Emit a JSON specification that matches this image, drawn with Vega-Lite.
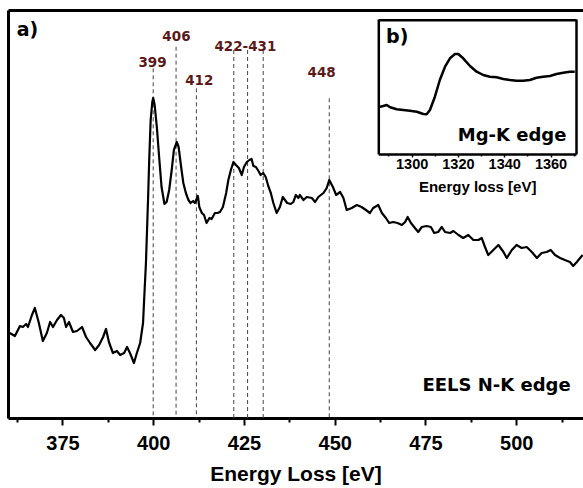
{
  "$schema": "https://vega.github.io/schema/vega-lite/v6.json",
  "width": 575,
  "height": 408,
  "autosize": "none",
  "padding": {"left": 8, "top": 10, "right": 0, "bottom": 70},
  "background": "white",
  "config": {"view": {"stroke": null}, "axis": {"grid": false}},
  "datasets": {
    "nk": [
      {"E":360.5,"I":85},{"E":361.9,"I":82},{"E":363.3,"I":92},{"E":364.1,"I":91},{"E":365.0,"I":94},{"E":365.5,"I":91},{"E":366.6,"I":103},{"E":367.4,"I":110},{"E":368.5,"I":95},{"E":369.6,"I":77},{"E":370.7,"I":85},{"E":371.6,"I":96},{"E":372.4,"I":91},{"E":373.5,"I":98},{"E":374.6,"I":103},{"E":375.4,"I":100},{"E":376.0,"I":91},{"E":376.8,"I":96},{"E":377.9,"I":86},{"E":379.0,"I":87},{"E":380.4,"I":91},{"E":381.5,"I":81},{"E":382.6,"I":75},{"E":384.0,"I":68},{"E":385.1,"I":73},{"E":386.2,"I":81},{"E":387.0,"I":89},{"E":387.8,"I":76},{"E":388.9,"I":65},{"E":390.0,"I":67},{"E":390.9,"I":63},{"E":392.0,"I":65},{"E":392.8,"I":71},{"E":393.6,"I":65},{"E":394.7,"I":55},{"E":395.5,"I":65},{"E":396.4,"I":75},{"E":397.2,"I":95},{"E":397.5,"I":118},{"E":398.0,"I":155},{"E":398.3,"I":188},{"E":398.6,"I":221},{"E":398.9,"I":258},{"E":399.3,"I":298},{"E":399.75,"I":316},{"E":400.0,"I":320},{"E":400.4,"I":313},{"E":401.0,"I":291},{"E":401.7,"I":258},{"E":402.3,"I":231},{"E":403.1,"I":214},{"E":403.7,"I":216},{"E":404.4,"I":228},{"E":405.1,"I":248},{"E":405.7,"I":268},{"E":406.5,"I":276},{"E":407.0,"I":271},{"E":407.7,"I":251},{"E":408.3,"I":235},{"E":409.0,"I":225},{"E":409.7,"I":218},{"E":410.3,"I":215},{"E":411.0,"I":217},{"E":411.5,"I":215},{"E":412.3,"I":222},{"E":412.7,"I":211},{"E":413.4,"I":205},{"E":414.0,"I":203},{"E":414.7,"I":195},{"E":415.5,"I":200},{"E":416.1,"I":199},{"E":417.0,"I":205},{"E":417.7,"I":205},{"E":418.4,"I":206},{"E":419.2,"I":211},{"E":420.1,"I":225},{"E":420.7,"I":238},{"E":421.4,"I":248},{"E":422.1,"I":256},{"E":422.8,"I":253},{"E":423.6,"I":250},{"E":424.4,"I":243},{"E":425.0,"I":251},{"E":425.8,"I":256},{"E":426.5,"I":258},{"E":427.1,"I":259},{"E":427.6,"I":252},{"E":428.3,"I":251},{"E":429.0,"I":247},{"E":429.6,"I":243},{"E":430.3,"I":245},{"E":431.0,"I":241},{"E":431.7,"I":232},{"E":432.4,"I":225},{"E":433.1,"I":215},{"E":434.0,"I":205},{"E":434.9,"I":211},{"E":435.7,"I":221},{"E":436.3,"I":218},{"E":436.9,"I":215},{"E":437.9,"I":214},{"E":438.6,"I":216},{"E":439.3,"I":223},{"E":440.0,"I":220},{"E":440.4,"I":223},{"E":441.4,"I":218},{"E":442.3,"I":221},{"E":443.7,"I":220},{"E":444.6,"I":216},{"E":445.5,"I":221},{"E":446.9,"I":225},{"E":447.8,"I":230},{"E":448.5,"I":238},{"E":449.5,"I":231},{"E":450.4,"I":223},{"E":451.5,"I":226},{"E":452.4,"I":220},{"E":453.3,"I":208},{"E":454.7,"I":210},{"E":456.1,"I":213},{"E":457.4,"I":211},{"E":458.6,"I":208},{"E":459.7,"I":205},{"E":460.6,"I":210},{"E":462.0,"I":213},{"E":463.0,"I":205},{"E":464.1,"I":200},{"E":465.0,"I":195},{"E":466.1,"I":196},{"E":467.3,"I":195},{"E":468.5,"I":193},{"E":469.4,"I":196},{"E":470.1,"I":201},{"E":471.0,"I":195},{"E":472.1,"I":190},{"E":473.0,"I":186},{"E":474.0,"I":191},{"E":475.3,"I":192},{"E":476.5,"I":191},{"E":477.4,"I":185},{"E":478.5,"I":186},{"E":479.5,"I":191},{"E":480.4,"I":186},{"E":481.8,"I":185},{"E":482.7,"I":187},{"E":484.1,"I":183},{"E":485.4,"I":180},{"E":486.8,"I":183},{"E":488.2,"I":178},{"E":489.6,"I":178},{"E":490.5,"I":180},{"E":491.4,"I":171},{"E":492.3,"I":163},{"E":493.7,"I":168},{"E":495.1,"I":173},{"E":496.5,"I":166},{"E":497.4,"I":160},{"E":498.8,"I":168},{"E":500.1,"I":173},{"E":501.5,"I":170},{"E":502.9,"I":171},{"E":504.3,"I":166},{"E":505.7,"I":160},{"E":507.0,"I":165},{"E":508.4,"I":166},{"E":509.5,"I":168},{"E":510.7,"I":163},{"E":512.1,"I":160},{"E":513.4,"I":158},{"E":514.8,"I":156},{"E":515.7,"I":152},{"E":516.7,"I":156},{"E":517.6,"I":160},{"E":518.3,"I":163}
    ],
    "lines": [
      {"E":400.0,"I":349.7},{"E":406.3,"I":371.3},{"E":411.9,"I":329.7},{"E":422.2,"I":368},{"E":426.0,"I":368},{"E":430.3,"I":368},{"E":448.5,"I":319.7}
    ],
    "peaklabels": [
      {"label":"399","E":399.8,"I":351.3},{"label":"406","E":406.4,"I":377.3},{"label":"412","E":412.7,"I":333},{"label":"422-431","E":425.4,"I":367},{"label":"448","E":446.4,"I":341.3}
    ],
    "tagA": [{"label":"a)","E":362.4,"I":382}],
    "tagEELS": [{"label":"EELS N-K edge","E":515.0,"I":27}],
    "mg": [
      {"E":1285.6,"I":46.7},{"E":1287.74,"I":48},{"E":1289.27,"I":49},{"E":1290.69,"I":46.7},{"E":1293.55,"I":44.7},{"E":1296.4,"I":44},{"E":1299.25,"I":43.3},{"E":1302.2,"I":42.3},{"E":1305.06,"I":40},{"E":1306.48,"I":39.7},{"E":1307.91,"I":44},{"E":1310.05,"I":57.3},{"E":1312.18,"I":74},{"E":1314.43,"I":87.3},{"E":1316.56,"I":95.7},{"E":1318.7,"I":100},{"E":1320.13,"I":100},{"E":1322.27,"I":95.7},{"E":1325.22,"I":88},{"E":1328.07,"I":82.3},{"E":1330.93,"I":79},{"E":1333.78,"I":77.3},{"E":1336.73,"I":76.7},{"E":1339.58,"I":75},{"E":1342.44,"I":74},{"E":1345.29,"I":73.3},{"E":1348.14,"I":73.3},{"E":1351.09,"I":74},{"E":1353.95,"I":76.3},{"E":1356.8,"I":77.3},{"E":1359.75,"I":78},{"E":1362.6,"I":80},{"E":1365.46,"I":81.3},{"E":1368.31,"I":82.3},{"E":1370.45,"I":82.3}
    ],
    "tagB": [{"label":"b)","E":1288.96,"I":111.3}],
    "tagMg": [{"label":"Mg-K edge","E":1366.88,"I":13}]
  },
  "layer": [
    {
      "encoding": {
        "x": {
          "field": "E", "type": "quantitative",
          "scale": {"domain": [360, 518.4], "nice": false, "zero": false},
          "axis": {
            "orient": "bottom",
            "title": "Energy Loss [eV]",
            "values": [362.5,375,387.5,400,412.5,425,437.5,450,462.5,475,487.5,500,512.5],
            "format": "d",
            "labelExpr": "datum.value % 25 === 0 ? datum.label : ''",
            "tickSize": {"condition": {"test": "datum.value % 25 === 0", "value": 7}, "value": 4},
            "tickWidth": 2, "tickColor": "black",
            "domainWidth": 3, "domainColor": "black",
            "labelFont": "Liberation Sans", "labelFontWeight": "bold", "labelFontSize": 20, "labelColor": "black",
            "labelPadding": 8, "labelFlush": false, "labelOverlap": false,
            "titleFont": "Liberation Sans", "titleFontWeight": "bold", "titleFontSize": 21, "titleColor": "black",
            "titlePadding": 10
          }
        },
        "y": {
          "field": "I", "type": "quantitative",
          "scale": {"domain": [0, 408], "nice": false, "zero": false},
          "axis": {"orient": "left", "ticks": false, "labels": false, "title": null, "domainWidth": 3, "domainColor": "black"}
        }
      },
      "layer": [
        {
          "data": {"name": "lines"},
          "mark": {"type": "rule", "color": "#444444", "strokeWidth": 1, "strokeDash": [4, 3]},
          "encoding": {"y2": {"datum": 0}}
        },
        {
          "data": {"name": "nk"},
          "mark": {"type": "line", "color": "black", "strokeWidth": 2.2, "strokeJoin": "round"}
        },
        {
          "data": {"name": "peaklabels"},
          "mark": {"type": "text", "font": "DejaVu Sans", "fontWeight": "bold", "fontSize": 13.5, "color": "#5b1a1a", "align": "center", "baseline": "alphabetic"},
          "encoding": {"text": {"field": "label"}}
        },
        {
          "data": {"name": "tagA"},
          "mark": {"type": "text", "font": "DejaVu Sans", "fontWeight": "bold", "fontSize": 19, "color": "black", "align": "left", "baseline": "alphabetic"},
          "encoding": {"text": {"field": "label"}}
        },
        {
          "data": {"name": "tagEELS"},
          "mark": {"type": "text", "font": "DejaVu Sans", "fontWeight": "bold", "fontSize": 18, "color": "black", "align": "right", "baseline": "alphabetic"},
          "encoding": {"text": {"field": "label"}}
        }
      ]
    },
    {
      "data": {"name": "nk"},
      "mark": {"type": "line", "opacity": 0},
      "encoding": {
        "x": {
          "field": "E", "type": "quantitative",
          "scale": {"domain": [360, 518.4], "nice": false, "zero": false},
          "axis": {"orient": "top", "ticks": false, "labels": false, "title": null, "domainWidth": 3, "domainColor": "black"}
        },
        "y": {
          "field": "I", "type": "quantitative",
          "scale": {"domain": [0, 408], "nice": false, "zero": false},
          "axis": null
        }
      }
    },
    {
      "encoding": {
        "x": {
          "field": "E", "type": "quantitative",
          "scale": {"domain": [1285.6, 1371.0], "range": [370.3, 568], "nice": false, "zero": false},
          "axis": {
            "orient": "bottom", "offset": -264,
            "title": "Energy loss [eV]",
            "values": [1290,1300,1310,1320,1330,1340,1350,1360,1370],
            "format": "d",
            "labelExpr": "datum.value % 20 === 0 ? datum.label : ''",
            "tickSize": {"condition": {"test": "datum.value % 20 === 0", "value": 3}, "value": 2},
            "tickWidth": 1.5, "tickColor": "black",
            "domainWidth": 2.5, "domainColor": "black",
            "labelFont": "Liberation Sans", "labelFontWeight": "bold", "labelFontSize": 14.5, "labelColor": "black",
            "labelPadding": 0.5, "labelFlush": false, "labelOverlap": false,
            "titleFont": "Liberation Sans", "titleFontWeight": "bold", "titleFontSize": 15, "titleColor": "black",
            "titlePadding": 8.5
          }
        },
        "y": {
          "field": "I", "type": "quantitative",
          "scale": {"domain": [0, 135], "range": [144, 9], "nice": false, "zero": false},
          "axis": {"orient": "left", "offset": -370.3, "ticks": false, "labels": false, "title": null, "domainWidth": 2.5, "domainColor": "black"}
        }
      },
      "layer": [
        {
          "data": {"name": "mg"},
          "mark": {"type": "line", "color": "black", "strokeWidth": 2.5, "strokeJoin": "round"}
        },
        {
          "data": {"name": "tagB"},
          "mark": {"type": "text", "font": "DejaVu Sans", "fontWeight": "bold", "fontSize": 19, "color": "black", "align": "left", "baseline": "alphabetic"},
          "encoding": {"text": {"field": "label"}}
        },
        {
          "data": {"name": "tagMg"},
          "mark": {"type": "text", "font": "DejaVu Sans", "fontWeight": "bold", "fontSize": 18, "color": "black", "align": "right", "baseline": "alphabetic"},
          "encoding": {"text": {"field": "label"}}
        }
      ]
    },
    {
      "data": {"name": "mg"},
      "mark": {"type": "line", "opacity": 0},
      "encoding": {
        "x": {
          "field": "E", "type": "quantitative",
          "scale": {"domain": [1285.6, 1371.0], "range": [370.3, 568], "nice": false, "zero": false},
          "axis": {"orient": "top", "offset": -9.8, "ticks": false, "labels": false, "title": null, "domainWidth": 2.5, "domainColor": "black"}
        },
        "y": {
          "field": "I", "type": "quantitative",
          "scale": {"domain": [0, 135], "range": [144, 9], "nice": false, "zero": false},
          "axis": {"orient": "right", "offset": -7, "ticks": false, "labels": false, "title": null, "domainWidth": 2.5, "domainColor": "black"}
        }
      }
    }
  ],
  "resolve": {
    "scale": {"x": "independent", "y": "independent"},
    "axis": {"x": "independent", "y": "independent"}
  }
}
